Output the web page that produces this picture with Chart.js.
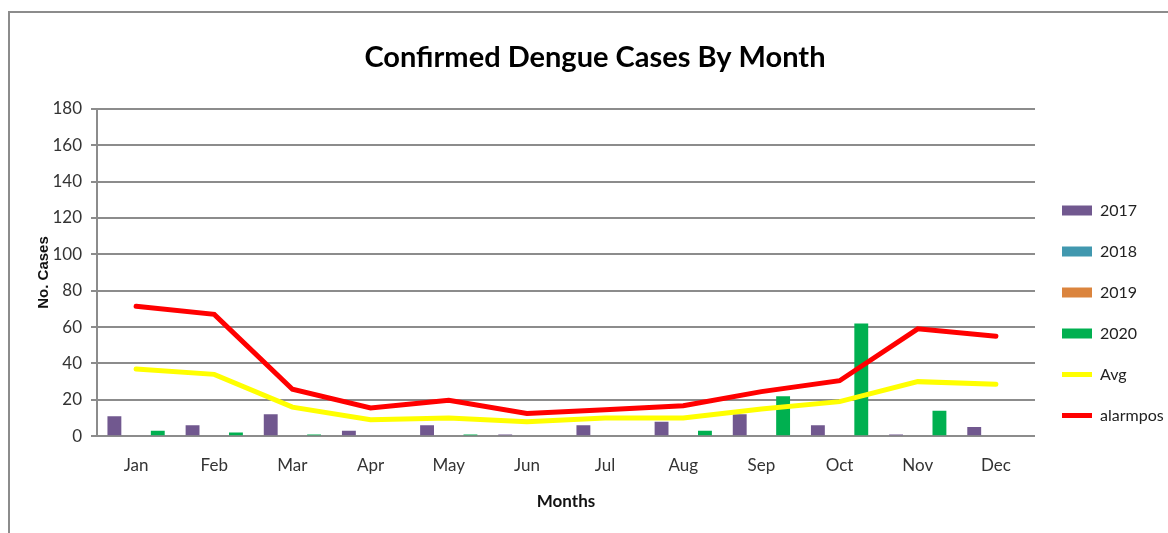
<!DOCTYPE html>
<html>
<head>
<meta charset="utf-8">
<script src="https://cdn.jsdelivr.net/npm/chart.js@4.4.1/dist/chart.umd.min.js"></script>
<style>
  html, body { margin: 0; padding: 0; background: #fff; overflow: hidden; }
  #wrap { position: relative; width: 1168px; height: 533px; }
  #frame {
    position: absolute; left: 8px; top: 11px; width: 2000px; height: 2000px;
    border: 2px solid #8c8c8c; box-sizing: border-box;
  }
  canvas { position: absolute; left: 0; top: 0; }
</style>
</head>
<body>
<div id="wrap">
  <div id="frame"></div>
  <canvas id="chart" width="1168" height="533"></canvas>
</div>
<script>
const months = ["Jan", "Feb", "Mar", "Apr", "May", "Jun", "Jul", "Aug", "Sep", "Oct", "Nov", "Dec"]

const cases2017 = [11, 6, 12, 3, 6, 1, 6, 8, 12, 6, 1, 5]
const cases2018 = [0, 0, 0, 0, 0, 0, 0, 0, 0, 0, 0, 0]
const cases2019 = [0, 0, 0, 0, 0, 0, 0, 0, 0, 0, 0, 0]
const cases2020 = [3, 2, 1, 0, 1, 0, 0, 3, 22, 62, 14, 0]
const avg = [37, 34, 16, 9, 10, 8, 10, 10, 15, 19, 30, 28.5]
const alarmpos = [71.5, 67, 25.8, 15.5, 19.7, 12.5, 14.5, 16.8, 24.5, 30.5, 59, 55]

const yTicks = [0, 20, 40, 60, 80, 100, 120, 140, 160, 180]

const narrow = "Lato, 'DejaVu Sans Condensed', sans-serif"
const gridColor = "#8c8c8c"

function barSet(label, values, color) {
  return {
    type: "bar",
    label: label,
    data: values,
    backgroundColor: color,
    borderWidth: 0,
    pointStyle: "rect",
    categoryPercentage: 0.74,
    barPercentage: 0.96,
    order: 1,
  }
}

function lineSet(label, values, color) {
  return {
    type: "line",
    label: label,
    data: values,
    borderColor: color,
    backgroundColor: color,
    borderWidth: 5,
    borderCapStyle: "round",
    pointStyle: "line",
    pointRadius: 0,
    tension: 0,
    fill: false,
    order: 0,
  }
}

// nudge the legend column so it sits beside the lower half of the plot
const legendOffset = {
  id: "legendOffset",
  afterLayout(chart) {
    const lg = chart.legend
    if (!lg) return
    lg.top += 48
    lg.bottom += 48
    lg.left += 2
    lg.right += 2
  },
}

new Chart(document.getElementById("chart"), {
  data: {
    labels: months,
    datasets: [
      barSet("2017", cases2017, "#71588f"),
      barSet("2018", cases2018, "#4198af"),
      barSet("2019", cases2019, "#db843d"),
      barSet("2020", cases2020, "#00b050"),
      lineSet("Avg", avg, "#ffff00"),
      lineSet("alarmpos", alarmpos, "#ff0000"),
    ],
  },
  options: {
    responsive: false,
    animation: false,
    layout: { padding: { left: 22, right: 0, top: 14, bottom: 17 } },
    plugins: {
      tooltip: { enabled: false },
      title: {
        display: true,
        text: "Confirmed Dengue Cases By Month",
        color: "#000",
        font: { family: narrow, size: 29, weight: "bold" },
        padding: { top: 26, bottom: 34 },
      },
      legend: {
        position: "right",
        align: "center",
        maxWidth: 133,
        labels: {
          usePointStyle: true,
          pointStyleWidth: 30,
          boxHeight: 10,
          padding: 25,
          color: "#222",
          font: { family: narrow, size: 16 },
          sort: (a, b) => a.datasetIndex - b.datasetIndex,
        },
      },
    },
    scales: {
      x: {
        grid: { display: false },
        border: { display: false },
        ticks: {
          color: "#333",
          padding: 11,
          font: { family: narrow, size: 17 },
        },
        title: {
          display: true,
          text: "Months",
          color: "#111",
          font: { family: narrow, size: 17, weight: "bold" },
          padding: { top: 5 },
        },
      },
      y: {
        min: 0,
        max: 180,
        afterBuildTicks: (scale) => {
          scale.ticks = yTicks.map((v) => ({ value: v }))
        },
        afterFit: (scale) => {
          scale.width = 75
        },
        grid: {
          color: gridColor,
          lineWidth: 2,
          tickLength: 6,
        },
        border: { display: true, color: gridColor, width: 2 },
        ticks: {
          color: "#333",
          padding: 9,
          font: { family: narrow, size: 17 },
        },
        title: {
          display: true,
          text: "No. Cases",
          color: "#111",
          font: { family: "'Liberation Sans', Arial, sans-serif", size: 15, weight: "bold" },
          padding: { top: 13, bottom: 0 },
        },
      },
    },
  },
  plugins: [legendOffset],
})
</script>
</body>
</html>
